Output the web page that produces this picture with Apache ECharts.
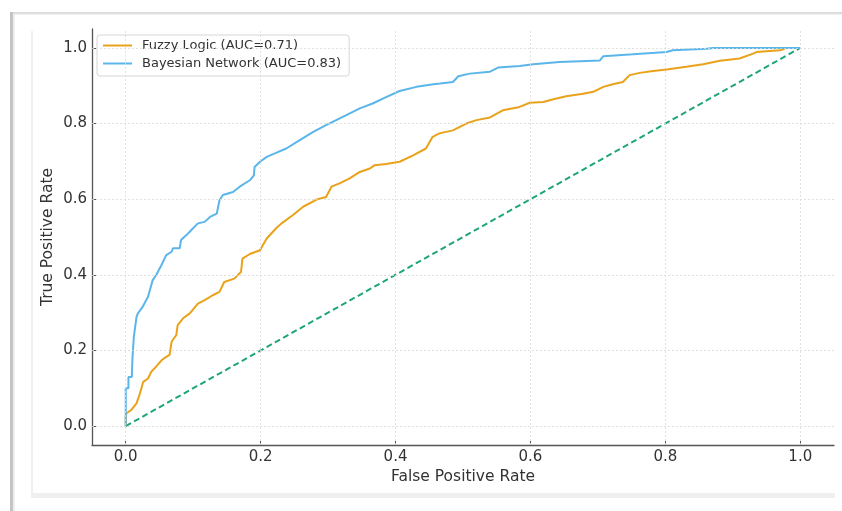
<!DOCTYPE html>
<html>
<head>
<meta charset="utf-8">
<script src="https://cdn.jsdelivr.net/npm/echarts@6/dist/echarts.min.js"></script>
<style>
  html, body { margin: 0; padding: 0; background: #ffffff; }
  #chart { width: 842px; height: 511px; }
</style>
</head>
<body>
<div id="chart"></div>
<script>
// ---- data ----
const xTicks = [0, 0.2, 0.4, 0.6, 0.8, 1.0];
const yTicks = [0, 0.2, 0.4, 0.6, 0.8, 1.0];

const fuzzyName = 'Fuzzy Logic (AUC=0.71)';
const bayesName = 'Bayesian Network (AUC=0.83)';

const fuzzyFpr = [0, 0, 0.001, 0.008, 0.016, 0.021, 0.026, 0.033, 0.038, 0.045, 0.053, 0.060, 0.065, 0.068, 0.075, 0.077, 0.085, 0.095, 0.107, 0.117, 0.129, 0.139, 0.146, 0.161, 0.171, 0.173, 0.184, 0.199, 0.209, 0.223, 0.231, 0.248, 0.263, 0.283, 0.297, 0.305, 0.317, 0.332, 0.347, 0.362, 0.369, 0.386, 0.406, 0.426, 0.445, 0.455, 0.465, 0.485, 0.505, 0.520, 0.540, 0.559, 0.584, 0.599, 0.619, 0.634, 0.653, 0.678, 0.693, 0.708, 0.722, 0.737, 0.747, 0.762, 0.782, 0.802, 0.831, 0.856, 0.881, 0.910, 0.930, 0.935, 0.970, 0.980, 1.0];
const fuzzyTpr = [0, 0.025, 0.034, 0.042, 0.060, 0.086, 0.117, 0.126, 0.144, 0.157, 0.174, 0.183, 0.188, 0.223, 0.241, 0.267, 0.285, 0.298, 0.324, 0.333, 0.346, 0.355, 0.381, 0.390, 0.408, 0.443, 0.455, 0.465, 0.496, 0.523, 0.536, 0.558, 0.580, 0.599, 0.606, 0.633, 0.642, 0.655, 0.672, 0.681, 0.690, 0.693, 0.699, 0.716, 0.734, 0.765, 0.774, 0.782, 0.800, 0.809, 0.816, 0.835, 0.844, 0.855, 0.857, 0.864, 0.872, 0.879, 0.884, 0.897, 0.904, 0.910, 0.928, 0.934, 0.939, 0.943, 0.950, 0.957, 0.966, 0.972, 0.985, 0.989, 0.994, 1.0, 1.0];

const bayesFpr = [0, 0, 0.004, 0.004, 0.009, 0.010, 0.012, 0.016, 0.018, 0.025, 0.033, 0.040, 0.045, 0.053, 0.060, 0.068, 0.070, 0.080, 0.082, 0.090, 0.097, 0.107, 0.117, 0.125, 0.135, 0.139, 0.144, 0.159, 0.169, 0.184, 0.190, 0.191, 0.199, 0.209, 0.221, 0.238, 0.258, 0.278, 0.297, 0.312, 0.327, 0.347, 0.366, 0.386, 0.406, 0.431, 0.456, 0.466, 0.485, 0.493, 0.510, 0.540, 0.552, 0.584, 0.604, 0.643, 0.703, 0.708, 0.752, 0.802, 0.811, 0.861, 0.871, 1.0];
const bayesTpr = [0, 0.100, 0.100, 0.130, 0.130, 0.180, 0.236, 0.289, 0.298, 0.315, 0.342, 0.386, 0.399, 0.426, 0.452, 0.461, 0.470, 0.470, 0.492, 0.505, 0.518, 0.536, 0.540, 0.553, 0.562, 0.597, 0.611, 0.619, 0.633, 0.650, 0.663, 0.685, 0.699, 0.712, 0.721, 0.734, 0.756, 0.778, 0.796, 0.809, 0.822, 0.840, 0.853, 0.870, 0.886, 0.897, 0.904, 0.906, 0.910, 0.925, 0.932, 0.937, 0.948, 0.952, 0.957, 0.963, 0.967, 0.978, 0.983, 0.989, 0.994, 0.998, 1.0, 1.0];

const chanceX = [0, 1];
const chanceY = [0, 1];

// ---- build chart ----
const zip = (xs, ys) => xs.map((x, i) => [x, ys[i]]);
const FONT = 'DejaVu Sans';

const chart = echarts.init(document.getElementById('chart'), null, { renderer: 'canvas' });

const gridLines = [
  ...xTicks.map(v => ({ xAxis: v })),
  ...yTicks.map(v => ({ yAxis: v }))
];

const option = {
  backgroundColor: '#ffffff',
  animation: false,
  textStyle: { fontFamily: FONT },
  graphic: [
    { type: 'rect', shape: { x: 12, y: 12, width: 830, height: 2 }, style: { fill: '#dddddd' }, silent: true },
    { type: 'rect', shape: { x: 14, y: 14, width: 828, height: 1 }, style: { fill: '#f2f2f2' }, silent: true },
    { type: 'rect', shape: { x: 10, y: 12, width: 3, height: 499 }, style: { fill: '#c4c4c4' }, silent: true },
    { type: 'rect', shape: { x: 13, y: 14, width: 2, height: 497 }, style: { fill: '#eeeeee' }, silent: true },
    { type: 'rect', shape: { x: 31, y: 31, width: 2, height: 467 }, style: { fill: '#efefef' }, silent: true },
    { type: 'rect', shape: { x: 31, y: 493, width: 804, height: 5 }, style: { fill: '#efefef' }, silent: true }
  ],
  grid: { left: 92, right: 8, top: 29, bottom: 66, containLabel: false },
  legend: {
    data: [fuzzyName, bayesName],
    orient: 'vertical',
    left: 97,
    top: 35,
    padding: [4, 8, 6, 6],
    icon: 'rect',
    itemWidth: 29,
    itemHeight: 2,
    itemGap: 5,
    backgroundColor: 'rgba(255,255,255,0.85)',
    borderColor: '#d6d6d6',
    borderWidth: 1,
    borderRadius: 3,
    textStyle: { fontFamily: FONT, fontSize: 13, color: '#333333', padding: [0, 0, 0, 5] }
  },
  xAxis: {
    type: 'value',
    min: -0.05,
    max: 1.05,
    name: 'False Positive Rate',
    nameLocation: 'middle',
    nameGap: 24,
    nameMoveOverlap: false,
    nameTextStyle: { fontFamily: FONT, fontSize: 15.5, color: '#333333' },
    axisLine: { show: true, onZero: false, lineStyle: { color: '#555555', width: 1.3 } },
    axisTick: { show: true, inside: true, length: 4, customValues: xTicks, lineStyle: { color: '#555555', width: 1 } },
    axisLabel: { customValues: xTicks, formatter: v => v.toFixed(1), fontFamily: FONT, fontSize: 15, color: '#333333', margin: 5 },
    splitLine: { show: false }
  },
  yAxis: {
    type: 'value',
    min: -0.05,
    max: 1.05,
    name: 'True Positive Rate',
    nameLocation: 'middle',
    nameGap: 36,
    nameMoveOverlap: false,
    nameTextStyle: { fontFamily: FONT, fontSize: 15.5, color: '#333333' },
    axisLine: { show: true, onZero: false, lineStyle: { color: '#555555', width: 1.3 } },
    axisTick: { show: true, inside: true, length: 4, customValues: yTicks, lineStyle: { color: '#555555', width: 1 } },
    axisLabel: { customValues: yTicks, formatter: v => v.toFixed(1), fontFamily: FONT, fontSize: 15, color: '#333333', margin: 5 },
    splitLine: { show: false }
  },
  series: [
    {
      name: 'grid',
      type: 'line',
      data: [],
      z: 0,
      silent: true,
      markLine: {
        silent: true,
        symbol: ['none', 'none'],
        label: { show: false },
        lineStyle: { color: '#d9d9d9', width: 0.8, type: [2, 2] },
        data: gridLines
      }
    },
    {
      name: 'Chance',
      type: 'line',
      data: zip(chanceX, chanceY),
      showSymbol: false,
      symbol: 'none',
      z: 2,
      lineStyle: { color: '#1fa677', width: 2, type: [6, 3.5] }
    },
    {
      name: fuzzyName,
      type: 'line',
      data: zip(fuzzyFpr, fuzzyTpr),
      symbol: 'none',
      z: 3,
      color: '#E9A21A',
      lineStyle: { color: '#E9A21A', width: 2 }
    },
    {
      name: bayesName,
      type: 'line',
      data: zip(bayesFpr, bayesTpr),
      symbol: 'none',
      z: 4,
      color: '#5AB6EA',
      lineStyle: { color: '#5AB6EA', width: 2 }
    }
  ]
};

chart.setOption(option);
</script>
</body>
</html>
